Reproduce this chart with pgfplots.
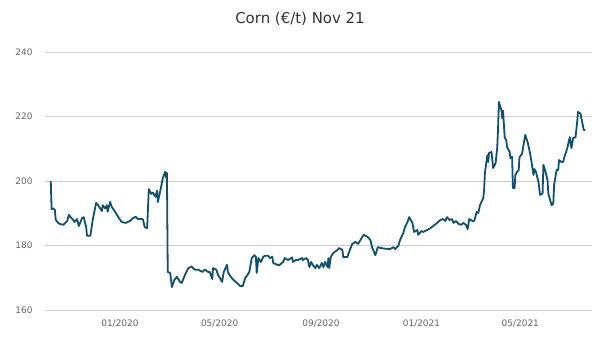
\documentclass[border=0pt]{standalone}
\usepackage{pgfplots}
\pgfplotsset{compat=1.18}
\usepackage{fontspec}
\setmainfont{DejaVu Sans}
\definecolor{linecol}{RGB}{16,80,108}
\definecolor{gridcol}{RGB}{206,206,206}
\definecolor{tickcol}{RGB}{102,102,102}
\definecolor{titlecol}{RGB}{51,51,51}
\begin{document}
\begin{tikzpicture}
\useasboundingbox (0,0) rectangle (600bp,350bp);
\begin{axis}[
  at={(45bp,40bp)}, anchor=south west,
  scale only axis, width=547bp, height=258bp,
  xmin=-91, xmax=573, ymin=160, ymax=240,
  ytick={160,180,200,220,240},
  xtick={0,121,244,366,486},
  xticklabels={01/2020,05/2020,09/2020,01/2021,05/2021},
  ymajorgrids, xmajorgrids=false,
  grid style={draw=gridcol, line width=0.9bp},
  axis line style={draw=none},
  major tick length=0pt,
  tick label style={font=\fontsize{9}{11}\selectfont, text=tickcol},
  yticklabel style={xshift=-9bp},
  xticklabel style={yshift=-6bp},
  /pgf/number format/assume math mode=true,
  clip=false,
]
\addplot[color=linecol, line width=1.8bp, line join=round, mark=none] table {
x y
-84 200.0
-83 191.3
-81 191.5
-79 191.0
-78 188.0
-75 187.0
-73 186.7
-69 186.4
-64 187.6
-62 189.5
-59 188.5
-57 188.0
-55 187.3
-52 188.2
-50 186.0
-46 188.5
-44 188.8
-41 185.7
-40 183.0
-36 183.0
-33 188.0
-29 193.2
-26 192.3
-22 190.7
-21 192.5
-18 191.5
-16 192.5
-15 190.5
-12 193.5
-10 192.0
-6 190.5
-2 188.8
2 187.3
7 187.0
12 187.6
16 188.5
19 188.9
22 188.2
27 188.2
28 188.0
30 185.7
33 185.4
35 197.5
38 196.0
40 196.4
43 195.1
45 197.0
46 193.5
50 198.2
52 200.9
55 202.9
56 201.0
57 202.5
58 171.8
61 171.5
63 167.1
66 169.3
69 170.3
73 168.7
75 168.4
79 170.9
83 173.0
87 173.5
91 172.5
95 172.5
100 171.8
103 172.5
107 171.8
109 171.8
112 169.6
113 173.0
117 172.5
119 170.9
122 169.6
124 168.7
126 171.8
130 174.0
131 171.8
134 170.5
137 169.5
142 168.4
146 167.4
149 167.4
152 169.9
154 170.6
157 171.8
160 176.1
163 177.0
165 176.5
166 171.5
168 176.1
171 174.9
174 176.5
176 176.8
180 176.8
182 176.1
185 176.5
186 174.6
191 174.0
194 174.0
198 174.9
200 176.1
204 175.5
209 176.3
210 174.9
214 175.6
216 175.5
221 176.1
222 175.5
226 176.1
228 175.6
230 173.3
232 174.9
234 174.0
237 173.0
239 174.0
242 173.0
245 174.6
247 173.3
249 174.9
252 173.3
253 176.1
254 173.0
256 176.5
259 177.7
264 178.6
266 179.2
270 178.6
271 176.4
276 176.4
279 178.6
282 180.5
286 181.1
289 180.5
292 181.7
294 182.6
296 183.3
301 182.6
304 181.7
306 179.5
310 177.0
313 179.5
317 179.2
322 179.0
328 178.9
332 179.5
334 178.9
338 180.0
340 181.7
344 183.9
346 185.7
349 187.3
351 188.8
355 187.0
357 184.2
361 184.8
362 183.3
366 184.5
368 184.2
373 184.8
377 185.4
380 186.0
385 187.0
389 187.9
392 188.2
395 187.6
397 188.8
400 187.9
403 188.2
405 187.0
408 187.6
411 186.7
414 186.4
417 187.0
420 186.4
422 185.1
424 188.2
428 187.6
430 187.6
433 190.4
435 190.1
437 192.5
441 194.7
442 197.2
443 202.5
446 208.0
447 205.9
448 208.7
451 209.0
453 204.0
456 205.6
458 210.5
459 216.7
460 224.5
463 222.0
464 219.5
465 221.8
467 213.6
469 212.5
470 210.5
473 209.0
474 207.1
476 207.5
477 197.8
479 197.8
480 201.9
482 202.8
484 203.4
485 207.4
488 208.4
492 214.3
495 211.9
497 209.6
499 206.8
502 201.9
503 203.7
505 202.8
508 199.7
510 195.7
513 196.1
514 205.0
516 203.4
519 200.3
520 196.1
521 195.1
524 192.5
526 193.0
527 198.8
530 203.4
532 203.4
533 206.5
536 205.9
538 205.9
539 207.0
543 210.2
546 213.6
548 210.2
550 213.3
553 213.6
555 218.3
556 221.4
559 220.9
561 218.3
563 215.8
565 215.8
};
\end{axis}
\node[font=\fontsize{15}{17}\selectfont, text=titlecol] at (300bp,331bp) {Corn (€/t) Nov 21};
\end{tikzpicture}
\end{document}
